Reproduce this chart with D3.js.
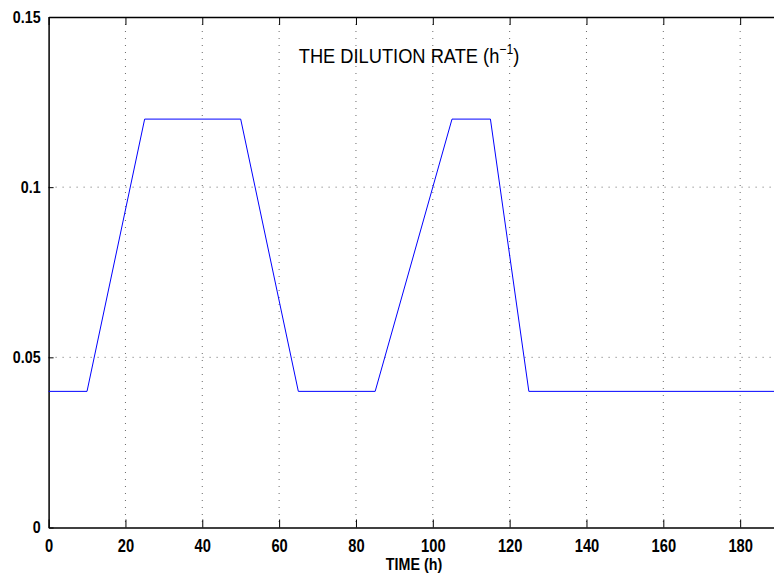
<!DOCTYPE html>
<html>
<head>
<meta charset="utf-8">
<script src="https://cdn.jsdelivr.net/npm/d3@7"></script>
<style>
  body { margin: 0; background: #fff; }
  svg { display: block; }
  .tick text { font-family: "Liberation Sans", Arial, sans-serif; font-weight: bold; }
</style>
</head>
<body>
<div id="chart"></div>
<script>
// dilution rate profile, time (h) vs D (1/h)
const times = [0, 10, 25, 50, 65, 85, 105, 115, 125, 200];
const rates = [0.04, 0.04, 0.12, 0.12, 0.04, 0.04, 0.12, 0.12, 0.04, 0.04];
const xTicks = [0, 20, 40, 60, 80, 100, 120, 140, 160, 180];
const yTicks = [0, 0.05, 0.1, 0.15];
const yTickLabels = ["0", "0.05", "0.1", "0.15"];

const W = 774, H = 579;
const margin = { top: 17, right: -43, bottom: 51.5, left: 48.6 };
const width = W - margin.left - margin.right;
const height = H - margin.top - margin.bottom;

// the font in the original is a narrow helvetica, squeeze the text a bit
const squeeze = 0.84;

const svg = d3.select("#chart").append("svg")
  .attr("width", W)
  .attr("height", H);

const g = svg.append("g")
  .attr("transform", "translate(" + margin.left + "," + margin.top + ")");

const x = d3.scaleLinear().domain([0, 200]).range([0, width]);
const y = d3.scaleLinear().domain([0, 0.15]).range([height, 0]);

// dotted grid
g.append("g")
  .selectAll("line")
  .data(xTicks.slice(1))
  .join("line")
  .attr("x1", d => x(d)).attr("x2", d => x(d))
  .attr("y1", 0).attr("y2", height)
  .attr("stroke", "#444")
  .attr("stroke-width", 0.8)
  .attr("stroke-dasharray", "1,6");

g.append("g")
  .selectAll("line")
  .data(yTicks.slice(1, 3))
  .join("line")
  .attr("x1", 0).attr("x2", width)
  .attr("y1", d => y(d)).attr("y2", d => y(d))
  .attr("stroke", "#444")
  .attr("stroke-width", 0.8)
  .attr("stroke-dasharray", "1,6");

// axes, ticks pointing inwards like matlab
const xAxis = g.append("g")
  .attr("transform", "translate(0," + height + ")")
  .call(d3.axisBottom(x).tickValues(xTicks).tickSizeInner(-8).tickSizeOuter(0).tickPadding(12));
xAxis.selectAll("text").style("font-size", "17.5px").attr("fill", "#000");

g.append("g")
  .call(d3.axisTop(x).tickValues(xTicks).tickSizeInner(-8).tickSizeOuter(0).tickFormat(""));

const yAxis = g.append("g")
  .call(d3.axisLeft(y).tickValues(yTicks).tickSizeInner(-5).tickSizeOuter(0).tickPadding(8)
    .tickFormat((d, i) => yTickLabels[i]));
yAxis.selectAll("text").style("font-size", "17px").attr("fill", "#000");

g.append("g")
  .attr("transform", "translate(" + width + ",0)")
  .call(d3.axisRight(y).tickValues(yTicks).tickSizeInner(-5).tickSizeOuter(0).tickFormat(""));

g.selectAll(".domain").attr("stroke", "#000").attr("stroke-width", 1.5);
g.selectAll(".tick line").attr("stroke", "#000");

g.selectAll(".tick text").each(function () {
  const len = this.getComputedTextLength();
  d3.select(this).attr("textLength", len * squeeze).attr("lengthAdjust", "spacingAndGlyphs");
});

// the profile
const line = d3.line()
  .x((d, i) => x(times[i]))
  .y(d => y(d));

g.append("path")
  .datum(rates)
  .attr("fill", "none")
  .attr("stroke", "#0000ff")
  .attr("stroke-width", 1)
  .attr("d", line);

// title inside the axes
const title = svg.append("text")
  .attr("transform", "translate(409,63) scale(0.87,1)")
  .attr("text-anchor", "middle")
  .style("font-family", "'Liberation Sans', Arial, sans-serif")
  .style("font-size", "21px")
  .attr("fill", "#000");
title.append("tspan").text("THE DILUTION RATE (h");
title.append("tspan").attr("dy", -9).style("font-size", "14px").text("\u22121");
title.append("tspan").attr("dy", 9).text(")");

// x label
svg.append("text")
  .attr("transform", "translate(414,570) scale(" + squeeze + ",1)")
  .attr("text-anchor", "middle")
  .style("font-family", "'Liberation Sans', Arial, sans-serif")
  .style("font-weight", "bold")
  .style("font-size", "17px")
  .attr("fill", "#000")
  .text("TIME (h)");
</script>
</body>
</html>
